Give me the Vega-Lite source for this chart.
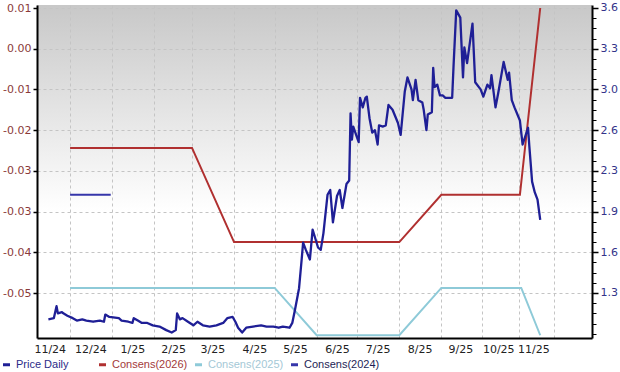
{
  "$schema": "https://vega.github.io/schema/vega-lite/v6.json",
  "autosize": {"type": "none"},
  "width": 555,
  "height": 333,
  "padding": {"left": 37, "top": 5, "right": 28, "bottom": 34},
  "background": "#ffffff",
  "config": {
    "view": {
      "stroke": null,
      "fill": {"gradient": "linear", "x1": 0, "y1": 0, "x2": 0, "y2": 1,
        "stops": [{"offset": 0, "color": "#c8c8c8"}, {"offset": 0.62, "color": "#ffffff"}, {"offset": 1, "color": "#ffffff"}]}
    },
    "axis": {"labelFont": "DejaVu Sans", "labelFontSize": 11, "title": null}
  },
  "datasets": {
    "price": [
      {"date": "2024/11/15", "price": 1.04}, {"date": "2024/11/19", "price": 1.05}, {"date": "2024/11/21", "price": 1.15},
      {"date": "2024/11/22", "price": 1.09}, {"date": "2024/11/25", "price": 1.10}, {"date": "2024/11/26", "price": 1.09},
      {"date": "2024/11/29", "price": 1.07}, {"date": "2024/12/03", "price": 1.05}, {"date": "2024/12/06", "price": 1.03},
      {"date": "2024/12/10", "price": 1.04}, {"date": "2024/12/13", "price": 1.03}, {"date": "2024/12/18", "price": 1.02},
      {"date": "2024/12/23", "price": 1.03}, {"date": "2024/12/26", "price": 1.02}, {"date": "2024/12/27", "price": 1.08},
      {"date": "2024/12/30", "price": 1.06}, {"date": "2025/01/06", "price": 1.05}, {"date": "2025/01/08", "price": 1.03},
      {"date": "2025/01/13", "price": 1.02}, {"date": "2025/01/16", "price": 1.01}, {"date": "2025/01/17", "price": 1.05},
      {"date": "2025/01/20", "price": 1.03}, {"date": "2025/01/23", "price": 1.01}, {"date": "2025/01/27", "price": 1.01},
      {"date": "2025/01/31", "price": 0.99}, {"date": "2025/02/05", "price": 0.98}, {"date": "2025/02/10", "price": 0.95},
      {"date": "2025/02/14", "price": 0.93}, {"date": "2025/02/17", "price": 0.95}, {"date": "2025/02/18", "price": 1.09},
      {"date": "2025/02/20", "price": 1.04}, {"date": "2025/02/22", "price": 1.05}, {"date": "2025/02/26", "price": 1.02},
      {"date": "2025/03/02", "price": 0.99}, {"date": "2025/03/05", "price": 1.02}, {"date": "2025/03/09", "price": 0.99},
      {"date": "2025/03/14", "price": 0.98}, {"date": "2025/03/19", "price": 0.99}, {"date": "2025/03/24", "price": 1.01},
      {"date": "2025/03/27", "price": 1.05}, {"date": "2025/03/31", "price": 1.06}, {"date": "2025/04/02", "price": 1.02},
      {"date": "2025/04/04", "price": 0.97}, {"date": "2025/04/07", "price": 0.93}, {"date": "2025/04/10", "price": 0.97},
      {"date": "2025/04/15", "price": 0.98}, {"date": "2025/04/21", "price": 0.99}, {"date": "2025/04/25", "price": 0.98},
      {"date": "2025/04/30", "price": 0.98}, {"date": "2025/05/04", "price": 0.97}, {"date": "2025/05/07", "price": 0.98},
      {"date": "2025/05/12", "price": 0.97}, {"date": "2025/05/14", "price": 1.01}, {"date": "2025/05/16", "price": 1.12},
      {"date": "2025/05/19", "price": 1.30}, {"date": "2025/05/21", "price": 1.55}, {"date": "2025/05/22", "price": 1.68},
      {"date": "2025/05/24", "price": 1.62}, {"date": "2025/05/27", "price": 1.54}, {"date": "2025/05/29", "price": 1.79},
      {"date": "2025/06/02", "price": 1.64}, {"date": "2025/06/04", "price": 1.62}, {"date": "2025/06/06", "price": 1.76},
      {"date": "2025/06/09", "price": 2.08}, {"date": "2025/06/11", "price": 2.12}, {"date": "2025/06/13", "price": 1.85},
      {"date": "2025/06/16", "price": 2.07}, {"date": "2025/06/18", "price": 2.12}, {"date": "2025/06/20", "price": 1.97},
      {"date": "2025/06/23", "price": 2.17}, {"date": "2025/06/25", "price": 2.20}, {"date": "2025/06/26", "price": 2.76},
      {"date": "2025/06/27", "price": 2.54}, {"date": "2025/06/28", "price": 2.65}, {"date": "2025/07/02", "price": 2.52},
      {"date": "2025/07/03", "price": 2.89}, {"date": "2025/07/05", "price": 2.81}, {"date": "2025/07/07", "price": 2.89},
      {"date": "2025/07/08", "price": 2.90}, {"date": "2025/07/10", "price": 2.72}, {"date": "2025/07/12", "price": 2.60},
      {"date": "2025/07/14", "price": 2.62}, {"date": "2025/07/16", "price": 2.50}, {"date": "2025/07/17", "price": 2.66},
      {"date": "2025/07/20", "price": 2.65}, {"date": "2025/07/22", "price": 2.66}, {"date": "2025/07/24", "price": 2.83},
      {"date": "2025/07/27", "price": 2.79}, {"date": "2025/07/31", "price": 2.68}, {"date": "2025/08/02", "price": 2.58},
      {"date": "2025/08/05", "price": 2.94}, {"date": "2025/08/07", "price": 3.06}, {"date": "2025/08/10", "price": 2.96},
      {"date": "2025/08/11", "price": 2.87}, {"date": "2025/08/13", "price": 3.04}, {"date": "2025/08/15", "price": 2.87},
      {"date": "2025/08/18", "price": 2.85}, {"date": "2025/08/19", "price": 2.79}, {"date": "2025/08/21", "price": 2.62},
      {"date": "2025/08/22", "price": 2.75}, {"date": "2025/08/25", "price": 2.77}, {"date": "2025/08/26", "price": 3.14},
      {"date": "2025/08/27", "price": 2.98}, {"date": "2025/08/29", "price": 3.00}, {"date": "2025/08/31", "price": 2.91},
      {"date": "2025/09/02", "price": 2.91}, {"date": "2025/09/04", "price": 2.89}, {"date": "2025/09/06", "price": 2.89},
      {"date": "2025/09/09", "price": 2.89}, {"date": "2025/09/10", "price": 3.15}, {"date": "2025/09/12", "price": 3.62},
      {"date": "2025/09/15", "price": 3.56}, {"date": "2025/09/17", "price": 3.06}, {"date": "2025/09/18", "price": 3.31},
      {"date": "2025/09/20", "price": 3.18}, {"date": "2025/09/24", "price": 3.51}, {"date": "2025/09/26", "price": 3.02},
      {"date": "2025/09/30", "price": 2.96}, {"date": "2025/10/02", "price": 2.90}, {"date": "2025/10/05", "price": 3.00},
      {"date": "2025/10/07", "price": 2.97}, {"date": "2025/10/08", "price": 3.08}, {"date": "2025/10/11", "price": 2.81},
      {"date": "2025/10/13", "price": 2.93}, {"date": "2025/10/17", "price": 3.19}, {"date": "2025/10/20", "price": 3.04},
      {"date": "2025/10/21", "price": 3.10}, {"date": "2025/10/23", "price": 2.87}, {"date": "2025/10/25", "price": 2.81},
      {"date": "2025/10/29", "price": 2.70}, {"date": "2025/10/31", "price": 2.50}, {"date": "2025/11/04", "price": 2.64},
      {"date": "2025/11/05", "price": 2.48}, {"date": "2025/11/07", "price": 2.19}, {"date": "2025/11/09", "price": 2.10},
      {"date": "2025/11/11", "price": 2.04}, {"date": "2025/11/13", "price": 1.87}
    ],
    "consensus": [
      {"series": "Consens(2026)", "date": "2024/12/01", "eps": -0.0215},
      {"series": "Consens(2026)", "date": "2025/03/01", "eps": -0.0215},
      {"series": "Consens(2026)", "date": "2025/04/01", "eps": -0.0400},
      {"series": "Consens(2026)", "date": "2025/08/01", "eps": -0.0400},
      {"series": "Consens(2026)", "date": "2025/09/01", "eps": -0.0307},
      {"series": "Consens(2026)", "date": "2025/10/29", "eps": -0.0307},
      {"series": "Consens(2026)", "date": "2025/11/13", "eps": 0.0060},
      {"series": "Consens(2025)", "date": "2024/12/01", "eps": -0.0490},
      {"series": "Consens(2025)", "date": "2025/05/01", "eps": -0.0490},
      {"series": "Consens(2025)", "date": "2025/06/01", "eps": -0.0583},
      {"series": "Consens(2025)", "date": "2025/08/01", "eps": -0.0583},
      {"series": "Consens(2025)", "date": "2025/09/01", "eps": -0.0490},
      {"series": "Consens(2025)", "date": "2025/10/30", "eps": -0.0490},
      {"series": "Consens(2025)", "date": "2025/11/13", "eps": -0.0583},
      {"series": "Consens(2024)", "date": "2024/12/01", "eps": -0.0307},
      {"series": "Consens(2024)", "date": "2024/12/31", "eps": -0.0307}
    ]
  },
  "layer": [
    {
      "data": {"name": "consensus"},
      "mark": {"type": "line", "strokeWidth": 2},
      "encoding": {
        "x": {
          "field": "date", "type": "temporal",
          "scale": {"domain": [{"year": 2024, "month": 11, "date": 6, "hours": 14}, {"year": 2025, "month": 12, "date": 21, "hours": 5}]},
          "axis": {
            "orient": "bottom",
            "values": [
              {"year": 2024, "month": 12, "date": 1}, {"year": 2025, "month": 1, "date": 1}, {"year": 2025, "month": 2, "date": 1},
              {"year": 2025, "month": 3, "date": 1}, {"year": 2025, "month": 4, "date": 1}, {"year": 2025, "month": 5, "date": 1},
              {"year": 2025, "month": 6, "date": 1}, {"year": 2025, "month": 7, "date": 1}, {"year": 2025, "month": 8, "date": 1},
              {"year": 2025, "month": 9, "date": 1}, {"year": 2025, "month": 10, "date": 1}, {"year": 2025, "month": 10, "date": 28},
              {"year": 2025, "month": 11, "date": 23}
            ],
            "labels": false, "ticks": false, "domain": true, "domainColor": "#000000", "domainWidth": 2,
            "grid": true, "gridColor": "#c4c4c4", "gridDash": [3, 3], "gridWidth": 1
          }
        },
        "y": {
          "field": "eps", "type": "quantitative",
          "scale": {"domain": [-0.05884, 0.00659], "nice": false, "zero": false},
          "axis": {
            "orient": "left",
            "values": [-0.05, -0.042, -0.034, -0.026, -0.018, -0.01, -0.002, 0.006],
            "labelExpr": "(datum.value < 0 && abs(datum.value) >= 0.005 ? '-' : '') + format(abs(datum.value), '.2f')",
            "labelColor": "#8b3a3a", "labelPadding": 2,
            "tickSize": 4, "tickWidth": 1.5, "tickColor": "#000000",
            "domainColor": "#000000", "domainWidth": 2,
            "grid": true, "gridColor": "#c4c4c4", "gridDash": [3, 3], "gridWidth": 1
          }
        },
        "color": {
          "field": "series", "type": "nominal",
          "scale": {
            "domain": ["Price Daily", "Consens(2026)", "Consens(2025)", "Consens(2024)"],
            "range": ["#1f1f96", "#b03030", "#8ecad8", "#3636aa"]
          },
          "legend": {
            "orient": "none", "legendX": -36, "legendY": 354, "direction": "horizontal", "columns": 4,
            "gridAlign": "all", "title": null, "padding": 0,
            "symbolType": "stroke", "symbolSize": 49, "symbolStrokeWidth": 3,
            "labelFont": "Liberation Sans", "labelFontSize": 11, "labelOffset": 4, "columnPadding": 1, "labelLimit": 0,
            "encode": {
              "labels": {"update": {"fill": {"signal": "datum.value === 'Price Daily' ? '#2b2b88' : datum.value === 'Consens(2026)' ? '#a33a3a' : datum.value === 'Consens(2025)' ? '#a4c8d6' : '#1e1e55'"}}}
            }
          }
        }
      }
    },
    {
      "data": {"name": "price"},
      "mark": {"type": "line", "strokeWidth": 2.3, "strokeJoin": "round"},
      "encoding": {
        "x": {
          "field": "date", "type": "temporal",
          "axis": {
            "orient": "bottom",
            "values": [
              {"year": 2024, "month": 11, "date": 16}, {"year": 2024, "month": 12, "date": 16}, {"year": 2025, "month": 1, "date": 16},
              {"year": 2025, "month": 2, "date": 15}, {"year": 2025, "month": 3, "date": 16}, {"year": 2025, "month": 4, "date": 16},
              {"year": 2025, "month": 5, "date": 16}, {"year": 2025, "month": 6, "date": 16}, {"year": 2025, "month": 7, "date": 16},
              {"year": 2025, "month": 8, "date": 16}, {"year": 2025, "month": 9, "date": 15}, {"year": 2025, "month": 10, "date": 13},
              {"year": 2025, "month": 11, "date": 8}
            ],
            "labelExpr": "timeFormat(datum.value, '%-m/%y')",
            "ticks": false, "domain": false, "grid": false,
            "labelColor": "#222222", "labelPadding": 5, "labelOverlap": false, "labelFlush": false
          }
        },
        "y": {
          "field": "price", "type": "quantitative",
          "scale": {"domain": [0.8842, 3.665], "nice": false, "zero": false},
          "axis": {
            "orient": "right",
            "values": [1.26, 1.6, 1.94, 2.28, 2.62, 2.96, 3.3, 3.64],
            "format": ".1f", "labelColor": "#33338a", "labelPadding": 2,
            "tickSize": 6, "tickWidth": 1.5, "tickColor": "#000000",
            "domainColor": "#000000", "domainWidth": 2, "grid": false
          }
        },
        "color": {"datum": "Price Daily"}
      }
    },
    {
      "data": {"name": "price"},
      "mark": {"type": "line", "opacity": 0},
      "encoding": {
        "x": {"field": "date", "type": "temporal", "axis": null},
        "y": {
          "field": "price", "type": "quantitative",
          "scale": {"domain": [0.8842, 3.665], "nice": false, "zero": false},
          "axis": {
            "orient": "right",
            "values": [0.92, 1.005, 1.09, 1.175, 1.345, 1.43, 1.515, 1.685, 1.77, 1.855, 2.025, 2.11, 2.195, 2.365, 2.45, 2.535, 2.705, 2.79, 2.875, 3.045, 3.13, 3.215, 3.385, 3.47, 3.555],
            "labels": false, "domain": false, "grid": false,
            "tickSize": 4, "tickWidth": 1, "tickColor": "#000000"
          }
        }
      }
    }
  ],
  "resolve": {
    "scale": {"y": "independent"},
    "axis": {"x": "independent", "y": "independent"}
  }
}
